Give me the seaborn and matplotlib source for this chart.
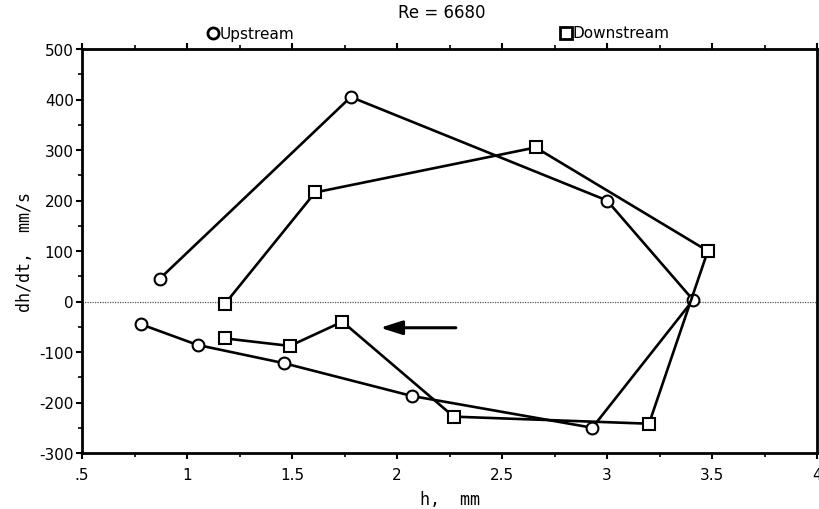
import numpy as np
import pandas as pd
import matplotlib
matplotlib.use("Agg")
import matplotlib.pyplot as plt
import seaborn as sns
from matplotlib.ticker import MultipleLocator, FixedLocator

sns.set_theme(style="white")
plt.rcParams["font.family"] = ["DejaVu Sans"]
plt.rcParams["axes.unicode_minus"] = False
plt.rcParams["text.color"] = "black"
plt.rcParams["axes.labelcolor"] = "black"
plt.rcParams["xtick.color"] = "black"
plt.rcParams["ytick.color"] = "black"

# Film thickness h (mm) and its rate of change dh/dt (mm/s) over one cycle
up_h = [0.87, 1.78, 3.00, 3.41, 2.93, 2.07, 1.46, 1.05, 0.78]
up_dhdt = [45, 405, 200, 3, -250, -187, -122, -86, -45]

down_h = [1.18, 1.61, 2.66, 3.48, 3.20, 2.27, 1.74, 1.49, 1.18]
down_dhdt = [-5, 216, 305, 100, -242, -228, -40, -88, -73]

x_ticks = [0.5, 1.0, 1.5, 2.0, 2.5, 3.0, 3.5, 4.0]
x_tick_labels = [".5", "1", "1.5", "2", "2.5", "3", "3.5", "4"]
y_ticks = [500, 400, 300, 200, 100, 0, -100, -200, -300]

up = pd.DataFrame({"h": up_h, "dhdt": up_dhdt})
down = pd.DataFrame({"h": down_h, "dhdt": down_dhdt})

fig = plt.figure(figsize=(8.19, 5.10), dpi=100)
ax = fig.add_axes([82 / 819, 1 - 454 / 510, (817 - 82) / 819, (454 - 50) / 510])

ax.axhline(0, color="#555555", lw=0.9, ls=(0, (1, 1)), zorder=1)

common = dict(ax=ax, x="h", y="dhdt", sort=False, color="black", linewidth=1.9,
              markerfacecolor="white", markeredgecolor="black",
              markeredgewidth=1.5, estimator=None, zorder=3)
sns.lineplot(data=up, marker="o", markersize=8.5, **common)
sns.lineplot(data=down, marker="s", markersize=8, **common)

# direction of travel around the loop
ax.annotate("", xy=(1.92, -52), xytext=(2.28, -52),
            arrowprops=dict(arrowstyle="-|>,head_length=1.1,head_width=0.35",
                            color="black", lw=2.2, shrinkA=0, shrinkB=0))

ax.set_xlim(0.5, 4.0)
ax.set_ylim(-300, 500)
ax.xaxis.set_major_locator(FixedLocator(x_ticks))
ax.set_xticklabels(x_tick_labels)
ax.xaxis.set_minor_locator(MultipleLocator(0.25))
ax.yaxis.set_major_locator(FixedLocator(y_ticks))
ax.yaxis.set_minor_locator(MultipleLocator(50))

for s in ax.spines.values():
    s.set_visible(True)
    s.set_color("black")
    s.set_linewidth(2.0)

ax.tick_params(axis="both", which="both", direction="out", color="black",
               labelsize=11, pad=2)
ax.tick_params(axis="x", which="major", length=4, width=1.5, top=True, bottom=True)
ax.tick_params(axis="x", which="minor", length=3, width=1.2, top=True, bottom=True)
ax.tick_params(axis="y", which="major", length=4, width=1.5, left=True)
ax.tick_params(axis="y", which="minor", length=3, width=1.2, left=True)
ax.tick_params(axis="x", pad=6)

ax.set_xlabel("h,  mm", fontsize=12, family="DejaVu Sans Mono", labelpad=6)
ax.set_ylabel("dh/dt,  mm/s", fontsize=12, family="DejaVu Sans Mono", labelpad=4)

fig.text(442 / 819, 1 - 13 / 510, "Re = 6680", ha="center", va="center", fontsize=12)

# legend above the frame
fig.add_artist(plt.Line2D([213 / 819], [1 - 34 / 510], marker="o", markersize=8,
                          markerfacecolor="white", markeredgecolor="black",
                          markeredgewidth=2, transform=fig.transFigure, ls=""))
fig.text(220 / 819, 1 - 34 / 510, "Upstream", ha="left", va="center", fontsize=11)
fig.add_artist(plt.Line2D([566 / 819], [1 - 34 / 510], marker="s", markersize=8,
                          markerfacecolor="white", markeredgecolor="black",
                          markeredgewidth=2, transform=fig.transFigure, ls=""))
fig.text(573 / 819, 1 - 34 / 510, "Downstream", ha="left", va="center", fontsize=11)

fig.savefig("out.png", dpi=100)
